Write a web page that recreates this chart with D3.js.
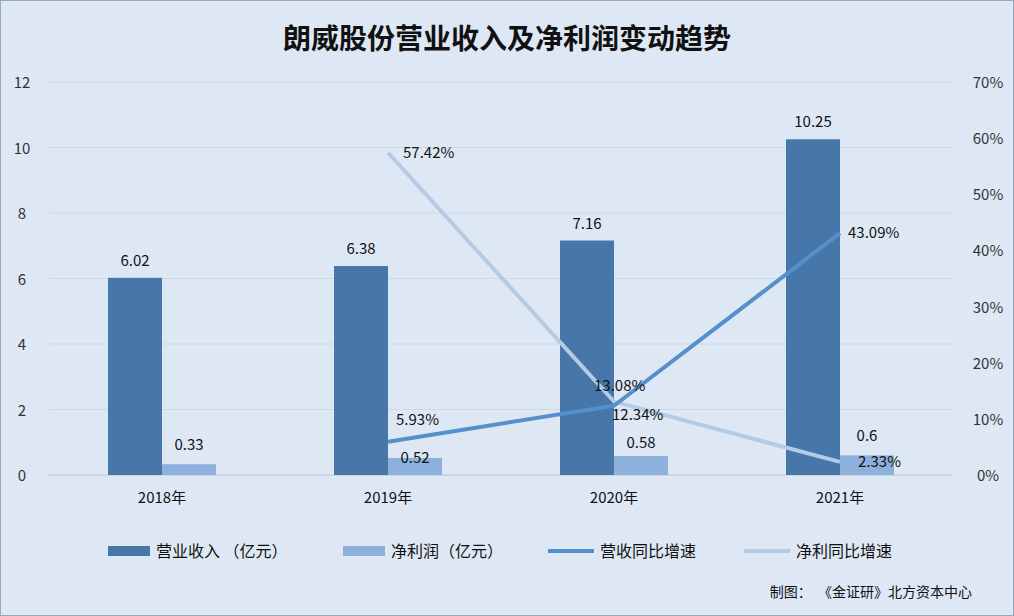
<!DOCTYPE html><html><head><meta charset="utf-8"><script src="https://cdn.jsdelivr.net/npm/d3@7"></script>
<style>body{margin:0}svg{font-family:"Noto Sans CJK SC","Noto Sans",sans-serif}</style></head><body><svg id="c" width="1014" height="616"></svg>
<script>
const years=["2018年","2019年","2020年","2021年"];
const revenue=[6.02,6.38,7.16,10.25];
const profit=[0.33,0.52,0.58,0.6];
const revGrowth=[null,5.93,12.34,43.09];
const profGrowth=[null,57.42,13.08,2.33];
const leftTicks=[0,2,4,6,8,10,12];
const rightTicks=[0,10,20,30,40,50,60,70];
const svg=d3.select("#c");
svg.append("rect").attr("x",0.5).attr("y",0.5).attr("width",1013).attr("height",615).attr("fill","#dee8f4").attr("stroke","#9aa8b8");
svg.append("text").attr("x",507).attr("y",49).attr("text-anchor","middle").attr("font-size",28).attr("font-weight","bold").attr("fill","#111").text("朗威股份营业收入及净利润变动趋势");
const x=d3.scaleBand().domain(years).range([49,953]);
const y=d3.scaleLinear().domain([0,12]).range([475,82]);
const y2=d3.scaleLinear().domain([0,70]).range([475,82]);
leftTicks.forEach(t=>{svg.append("line").attr("x1",49).attr("x2",953).attr("y1",y(t)).attr("y2",y(t)).attr("stroke",t==0?"#b8c4d0":"#cfd9e4");
svg.append("text").attr("x",22).attr("y",y(t)+6).attr("text-anchor","middle").attr("font-size",15).attr("fill","#333").text(t);});
rightTicks.forEach(t=>svg.append("text").attr("x",988).attr("y",y2(t)+6).attr("text-anchor","middle").attr("font-size",15).attr("fill","#333").text(t+"%"));
const bw=54;
const profitLabelGap=[14,-5,8,14];
years.forEach((c,i)=>{const cx=x(c)+x.bandwidth()/2;
svg.append("rect").attr("x",cx-bw).attr("y",y(revenue[i])).attr("width",bw).attr("height",y(0)-y(revenue[i])).attr("fill","#4677a8");
svg.append("rect").attr("x",cx).attr("y",y(profit[i])).attr("width",bw).attr("height",y(0)-y(profit[i])).attr("fill","#8db0dc");
svg.append("text").attr("x",cx-bw/2).attr("y",y(revenue[i])-12).attr("text-anchor","middle").attr("font-size",15).attr("fill","#111").text(revenue[i]);
svg.append("text").attr("x",cx+bw/2).attr("y",y(profit[i])-profitLabelGap[i]).attr("text-anchor","middle").attr("font-size",15).attr("fill","#111").text(profit[i]);
svg.append("text").attr("x",cx).attr("y",503).attr("text-anchor","middle").attr("font-size",15).attr("fill","#111").text(c);});
const cxf=(d,i)=>x(years[i])+x.bandwidth()/2;
function line(data,color){const l=d3.line().defined(d=>d!=null).x(cxf).y(d=>y2(d));
svg.append("path").datum(data).attr("d",l).attr("fill","none").attr("stroke",color).attr("stroke-width",4);}
line(profGrowth,"#b4cbe6");line(revGrowth,"#5590cc");
const lbl=(v,i,dx,dy)=>svg.append("text").attr("x",cxf(v,i)+dx).attr("y",y2(v)+dy).attr("font-size",15).attr("fill","#111").text(v.toFixed(2)+"%");
lbl(revGrowth[1],1,8,-17);lbl(revGrowth[2],2,-2,14);lbl(revGrowth[3],3,8,5);
lbl(profGrowth[1],1,15,5);lbl(profGrowth[2],2,-20,-11);lbl(profGrowth[3],3,18,5);
const leg=[["营业收入 （亿元）","#4677a8","r",108],["净利润（亿元）","#8db0dc","r",343],["营收同比增速","#5590cc","l",548],["净利同比增速","#b4cbe6","l",744]];
leg.forEach(([t,c,k,lx])=>{if(k=="r")svg.append("rect").attr("x",lx).attr("y",546).attr("width",42).attr("height",10).attr("fill",c);
else svg.append("line").attr("x1",lx).attr("x2",lx+46).attr("y1",551).attr("y2",551).attr("stroke",c).attr("stroke-width",4);
svg.append("text").attr("x",lx+(k=="r"?48:52)).attr("y",557).attr("font-size",16).attr("fill","#111").text(t);});
svg.append("text").attr("x",972).attr("y",597).attr("text-anchor","end").attr("font-size",14).attr("fill","#111").attr("xml:space","preserve").text("制图：  《金证研》北方资本中心");
</script></body></html>
